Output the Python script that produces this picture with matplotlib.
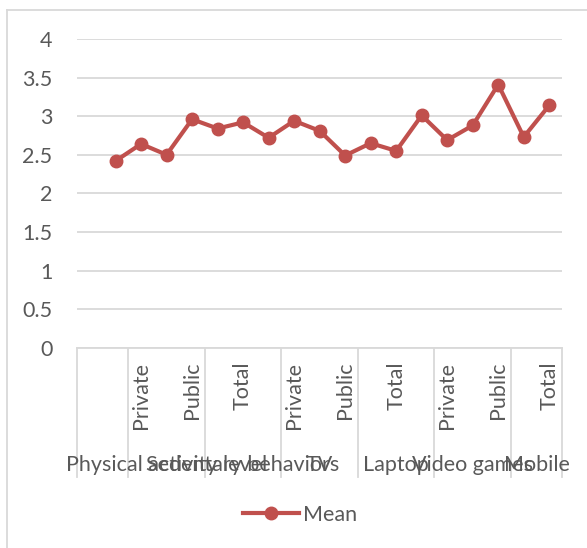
import numpy as np
import matplotlib
matplotlib.use("Agg")
import matplotlib.pyplot as plt
import matplotlib.transforms as mtransforms
from matplotlib.lines import Line2D

# data (first slot of the category axis is empty)
mean = [np.nan, 2.42, 2.64, 2.50, 2.96, 2.84, 2.92, 2.72, 2.94, 2.81,
        2.49, 2.65, 2.55, 3.01, 2.69, 2.88, 3.41, 2.73, 3.14]
tick_labels = ["", "", "Private", "", "Public", "", "Total", "", "Private", "",
               "Public", "", "Total", "", "Private", "", "Public", "", "Total"]
group_labels = ["", "Physical activity level", "Sedentary behaviors", "TV",
                "Laptop", "Video games", "Mobile"]
group_sizes = [2, 3, 3, 3, 3, 3, 2]

txt = "#595959"
grid = "#d9d9d9"
red = "#C0504D"
fs = 15.5
plt.rcParams["font.family"] = ["Lato", "DejaVu Sans"]

W, H = 587, 548
fig = plt.figure(figsize=(W / 100, H / 100), dpi=100)
ax = fig.add_axes([77.3 / W, 1 - 347.7 / H, (562 - 77.3) / W, (347.7 - 39) / H])

x = np.arange(len(mean))
ax.plot(x, mean, color=red, lw=3, marker="o", ms=9, label="Mean")

ax.set_xlim(-0.5, len(mean) - 0.5)
ax.set_ylim(0, 4)
ax.set_yticks(np.arange(0, 4.01, 0.5))
ax.set_yticklabels(["0", "0.5", "1", "1.5", "2", "2.5", "3", "3.5", "4"])
ax.grid(axis="y", color=grid, lw=1.3)
ax.set_axisbelow(True)
for s in ["top", "right", "left"]:
    ax.spines[s].set_visible(False)
ax.spines["bottom"].set_color(grid)
ax.spines["bottom"].set_linewidth(1.3)
ax.tick_params(axis="y", length=0, pad=18, labelsize=fs, labelcolor=txt)
ax.set_xticks(x)
ax.set_xticklabels(tick_labels, rotation=90, va="top", ha="center")
ax.tick_params(axis="x", length=0, pad=10, labelsize=fs, labelcolor=txt)

# group separators and labels below the axis
tr = mtransforms.blended_transform_factory(ax.transData, fig.transFigure)
y0 = 1 - 347.7 / H
y1 = 1 - 477 / H
edges = np.concatenate([[0], np.cumsum(group_sizes)]) - 0.5
for e in edges:
    fig.add_artist(Line2D([e, e], [y0, y1], transform=tr, color=grid, lw=1.3))
for i, lab in enumerate(group_labels):
    c = (edges[i] + edges[i + 1]) / 2
    fig.text(c, 1 - 465 / H, lab, transform=tr, ha="center", va="center",
             fontsize=fs, color=txt)

# chart border
fig.add_artist(Line2D([7 / W, 7 / W], [0, 1 - 10 / H], color=grid, lw=1.3))
fig.add_artist(Line2D([7 / W, 1], [1 - 10 / H, 1 - 10 / H], color=grid, lw=1.3))

fig.legend(loc="center", bbox_to_anchor=(300 / W, 1 - 515 / H), frameon=False,
           fontsize=fs, handlelength=2.6, handletextpad=0.2, labelcolor=txt)

fig.savefig("out.png", dpi=100)
